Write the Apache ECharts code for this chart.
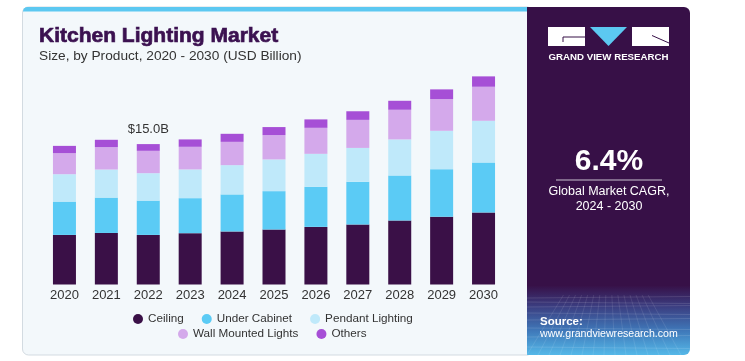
<!DOCTYPE html>
<html>
<head>
<meta charset="utf-8">
<script src="https://cdn.jsdelivr.net/npm/echarts@6/dist/echarts.min.js"></script>
<style>
html,body{margin:0;padding:0;background:#ffffff;}
#chart{width:745px;height:361px;}
</style>
</head>
<body>
<div id="chart"></div>
<script>
// ---- data ----
var years = ['2020','2021','2022','2023','2024','2025','2026','2027','2028','2029','2030'];
var ceiling      = [5.30, 5.51, 5.30, 5.49, 5.67, 5.88, 6.16, 6.42, 6.85, 7.23, 7.70];
var underCabinet = [3.56, 3.78, 3.67, 3.74, 3.96, 4.10, 4.28, 4.57, 4.81, 5.10, 5.35];
var pendant      = [2.93, 3.00, 2.93, 3.07, 3.13, 3.39, 3.53, 3.61, 3.85, 4.10, 4.45];
var wallMounted  = [2.25, 2.40, 2.39, 2.42, 2.49, 2.60, 2.78, 3.00, 3.17, 3.39, 3.64];
var others       = [0.78, 0.78, 0.72, 0.79, 0.86, 0.86, 0.90, 0.92, 0.96, 1.04, 1.11];
var labelIndex = 2; // 2022 total label

var seriesNames = ['Ceiling','Under Cabinet','Pendant Lighting','Wall Mounted Lights','Others'];
var seriesColors = ['#3a1047','#5bcbf5','#bfe9fa','#d4a9eb','#a64fd6'];
var seriesData = [ceiling, underCabinet, pendant, wallMounted, others];

var total2022 = 0;
seriesData.forEach(function(arr){ total2022 += arr[labelIndex]; });

var chart = echarts.init(document.getElementById('chart'), null, {renderer:'canvas'});

var series = seriesData.map(function(arr, k){
  var data = arr.slice();
  if (k === seriesData.length - 1) {
    data = arr.map(function(v, i){
      if (i === labelIndex) {
        return {value: v, label: {show: true, position: 'top', distance: 8,
          formatter: '$' + total2022.toFixed(1) + 'B',
          color: '#333333', fontSize: 13, fontFamily: 'Liberation Sans'}};
      }
      return v;
    });
  }
  return {
    name: seriesNames[k], type: 'bar', stack: 'total', barWidth: 23,
    itemStyle: {color: seriesColors[k]},
    emphasis: {disabled: true},
    data: data
  };
});

// mesh lines for the bottom of the right panel
var mesh = [];
var hy = [298, 302, 307, 313, 320, 328, 337, 347];
hy.forEach(function(y, i){
  mesh.push({type:'line', shape:{x1:527, y1:y, x2:690, y2:y + (i%2 ? 1.5 : -1.5)},
    style:{stroke:'rgba(255,255,255,0.15)', lineWidth:0.8}, silent:true});
});
for (var vx = 527; vx <= 690; vx += 11) {
  var xt = 608 + (vx - 608) * 0.55;
  mesh.push({type:'line', shape:{x1:xt, y1:295, x2:vx, y2:355},
    style:{stroke:'rgba(255,255,255,0.12)', lineWidth:0.8}, silent:true});
}

var option = {
  animation: false,
  backgroundColor: '#ffffff',
  textStyle: {fontFamily: 'Liberation Sans'},
  title: [{
    text: 'Kitchen Lighting Market',
    left: 39, top: 26, padding: 0,
    textStyle: {fontFamily: 'Liberation Sans', fontWeight: 'bold', fontSize: 21, color: '#3b1150',
      textBorderColor: '#3b1150', textBorderWidth: 0.7}
  },{
    text: 'Size, by Product, 2020 - 2030 (USD Billion)',
    left: 39, top: 49, padding: 0,
    textStyle: {fontFamily: 'Liberation Sans', fontWeight: 'normal', fontSize: 13.7, color: '#333333'}
  }],
  graphic: [
    {type:'rect', z:-10, shape:{x:22.5, y:7, width:506, height:348, r:[6,0,0,6]},
      style:{fill:'#f3f8fb', stroke:'#d3dbe1', lineWidth:1}, silent:true},
    {type:'rect', z:-9, shape:{x:23, y:7, width:505, height:4.5, r:[5,0,0,0]},
      style:{fill:'#5cc8f1'}, silent:true},
    {type:'rect', z:-8, shape:{x:527, y:7, width:163, height:348, r:[0,6,6,0]},
      style:{fill:{type:'linear', x:0, y:0, x2:0, y2:1, colorStops:[
        {offset:0, color:'#371047'}, {offset:0.8, color:'#371047'},
        {offset:0.86, color:'#3b3d80'}, {offset:0.93, color:'#3f78b9'}, {offset:1, color:'#55b8e8'}]}},
      silent:true},
    {type:'group', z:-7, children: mesh, silent:true},
    // logo
    {type:'rect', shape:{x:548, y:27, width:37, height:19}, style:{fill:'#ffffff'}, silent:true},
    {type:'polyline', shape:{points:[[585,37],[563,37],[563,42]]}, style:{stroke:'#371047', lineWidth:1, fill:null}, silent:true},
    {type:'polygon', shape:{points:[[590,27],[627,27],[608.5,46]]}, style:{fill:'#5cc8f1'}, silent:true},
    {type:'rect', shape:{x:632, y:27, width:37, height:19}, style:{fill:'#ffffff'}, silent:true},
    {type:'line', shape:{x1:652, y1:35.5, x2:669, y2:43}, style:{stroke:'#371047', lineWidth:1}, silent:true},
    {type:'text', style:{text:'GRAND VIEW RESEARCH', x:608.5, y:57.7, align:'center', verticalAlign:'middle',
      fill:'#ffffff', font:'bold 9.7px "Liberation Sans"'}, silent:true},
    // CAGR
    {type:'text', style:{text:'6.4%', x:609, y:162, align:'center', verticalAlign:'middle',
      fill:'#ffffff', font:'bold 30px "Liberation Sans"'}, silent:true},
    {type:'line', shape:{x1:556, y1:180, x2:662, y2:180}, style:{stroke:'#c9c2d0', lineWidth:1.2}, silent:true},
    {type:'text', style:{text:'Global Market CAGR,', x:609, y:192, align:'center', verticalAlign:'middle',
      fill:'#ffffff', font:'12.5px "Liberation Sans"'}, silent:true},
    {type:'text', style:{text:'2024 - 2030', x:609, y:207, align:'center', verticalAlign:'middle',
      fill:'#ffffff', font:'12.5px "Liberation Sans"'}, silent:true},
    // source
    {type:'text', style:{text:'Source:', x:540, y:322, align:'left', verticalAlign:'middle',
      fill:'#ffffff', font:'bold 11.5px "Liberation Sans"'}, silent:true},
    {type:'text', style:{text:'www.grandviewresearch.com', x:540, y:334.5, align:'left', verticalAlign:'middle',
      fill:'#ffffff', font:'10.6px "Liberation Sans"'}, silent:true}
  ],
  legend: [{
    data: seriesNames.slice(0,3),
    left: 133, top: 313, padding: 0,
    icon: 'circle', itemWidth: 10, itemHeight: 10, itemGap: 18,
    textStyle: {fontSize: 11.7, color: '#333333', fontFamily: 'Liberation Sans'},
    selectedMode: false
  },{
    data: seriesNames.slice(3),
    left: 178, top: 328, padding: 0,
    icon: 'circle', itemWidth: 10, itemHeight: 10, itemGap: 18,
    textStyle: {fontSize: 11.7, color: '#333333', fontFamily: 'Liberation Sans'},
    selectedMode: false
  }],
  grid: {left: 43.5, top: 60, width: 461, height: 224.5, containLabel: false},
  xAxis: {
    type: 'category', data: years,
    axisLine: {show: false}, axisTick: {show: false},
    axisLabel: {fontSize: 13, color: '#333333', margin: 4, fontFamily: 'Liberation Sans'}
  },
  yAxis: {
    type: 'value', min: 0, max: 24,
    show: false, splitLine: {show: false}
  },
  series: series
};
chart.setOption(option);
</script>
</body>
</html>
